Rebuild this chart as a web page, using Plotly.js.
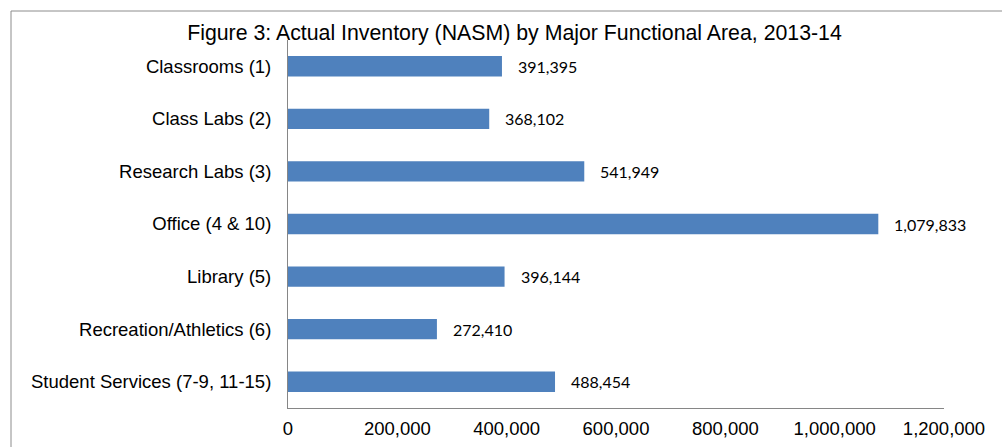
<!DOCTYPE html>
<html>
<head>
<meta charset="utf-8">
<script src="https://cdn.plot.ly/plotly-3.0.1.min.js"></script>
<style>html,body{margin:0;padding:0;background:#fff;}#chart{width:1002px;height:447px;}</style>
</head>
<body>
<div id="chart"></div>
<script>
const categories = [
  "Classrooms (1)",
  "Class Labs (2)",
  "Research Labs (3)",
  "Office (4 & 10)",
  "Library (5)",
  "Recreation/Athletics (6)",
  "Student Services (7-9, 11-15)"
];
const values = [391395, 368102, 541949, 1079833, 396144, 272410, 488454];
const valueLabels = ["391,395", "368,102", "541,949", "1,079,833", "396,144", "272,410", "488,454"];
const xTickVals = [0, 200000, 400000, 600000, 800000, 1000000, 1200000];
const xTickText = ["0", "200,000", "400,000", "600,000", "800,000", "1,000,000", "1,200,000"];
const titleText = "Figure 3: Actual Inventory (NASM) by Major Functional Area, 2013-14";

const trace = {
  type: "bar",
  orientation: "h",
  x: values,
  y: categories,
  marker: {color: "#4F81BD", line: {width: 0}},
  hoverinfo: "none"
};

const annotations = values.map((v, i) => ({
  x: v, y: categories[i], xref: "x", yref: "y",
  text: valueLabels[i], showarrow: false,
  xanchor: "left", yanchor: "middle", xshift: 14, yshift: 0,
  font: {family: "Lato, 'Open Sans', sans-serif", size: 16, color: "#000"}
}));

const layout = {
  width: 1002, height: 447,
  margin: {l: 288, r: 58, t: 40, b: 39, pad: 0},
  paper_bgcolor: "#fff", plot_bgcolor: "#fff",
  showlegend: false,
  bargap: 0.613,
  font: {family: "'Liberation Sans', Arial, sans-serif", size: 18.5, color: "#000"},
  title: {
    text: titleText,
    font: {family: "'Liberation Sans', Arial, sans-serif", size: 21.3, color: "#000"},
    xref: "container", x: 514.5/1002, xanchor: "center",
    yref: "container", y: 1 - 32.5/447, yanchor: "middle"
  },
  xaxis: {
    range: [0, 1200000], tickvals: xTickVals, ticktext: xTickText,
    showgrid: false, zeroline: false, showline: true, linecolor: "#868686", linewidth: 1,
    ticks: "", ticklabelstandoff: 4,
    tickfont: {size: 18.5, color: "#000"}, fixedrange: true
  },
  yaxis: {
    autorange: "reversed", type: "category",
    showgrid: false, zeroline: false, showline: true, linecolor: "#868686", linewidth: 1,
    ticks: "", ticklabelstandoff: 12,
    tickfont: {size: 18.5, color: "#000"}, fixedrange: true
  },
  annotations: annotations,
  shapes: [
    {type: "line", xref: "paper", yref: "paper", x0: -277/656, x1: 1.2, y0: 1 + 29/368, y1: 1 + 29/368,
     line: {color: "#8c8c8c", width: 1}},
    {type: "line", xref: "paper", yref: "paper", x0: -277/656, x1: -277/656, y0: 1 + 29/368, y1: -0.2,
     line: {color: "#8c8c8c", width: 1}}
  ]
};

Plotly.newPlot("chart", [trace], layout, {displayModeBar: false, staticPlot: true});
</script>
</body>
</html>
